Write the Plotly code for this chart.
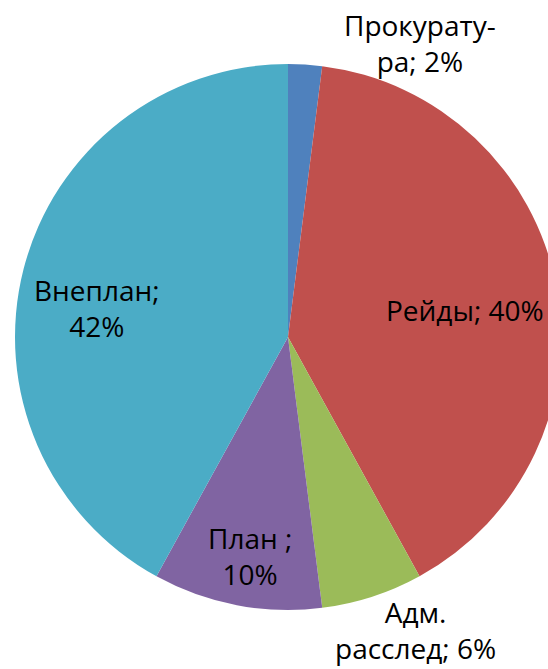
import plotly.graph_objects as go

categories = ["Прокуратура", "Рейды", "Адм. расследование", "План", "Внеплан"]
values = [2, 40, 6, 10, 42]
label_texts = ["Прокурату-<br>ра; 2%", "Рейды; 40%", "Адм.<br>расслед; 6%", "План ;<br>10%", "Внеплан;<br>42%"]
colors = ["#4F81BD", "#C0504D", "#9BBB59", "#8064A2", "#4BACC6"]

W, H = 580, 669
cx, cy, R = 288, 337, 273

# label centres in pixels (layout only)
label_px = [(420, 43), (465, 310), (415, 630), (250, 556), (97, 308)]

fig = go.Figure(go.Pie(
    labels=categories,
    values=values,
    sort=False,
    direction="clockwise",
    rotation=0,
    marker=dict(colors=colors, line=dict(width=0)),
    textinfo="none",
    hoverinfo="label+percent",
    showlegend=False,
    domain=dict(x=[(cx - R) / W, (cx + R) / W], y=[(H - cy - R) / H, (H - cy + R) / H]),
))

for txt, (px, py) in zip(label_texts, label_px):
    fig.add_annotation(
        x=px / W, y=1 - py / H, xref="paper", yref="paper",
        text=txt, showarrow=False, align="center",
        xanchor="center", yanchor="middle",
        font=dict(family="Open Sans", size=28, color="#000000"),
    )

fig.update_layout(
    width=W, height=H,
    margin=dict(l=0, r=0, t=0, b=0),
    paper_bgcolor="white",
    plot_bgcolor="white",
)

fig.write_html("out.html", config={"displayModeBar": False},
               post_script="document.body.style.margin='0';document.body.style.overflow='hidden';document.documentElement.style.overflow='hidden';")
